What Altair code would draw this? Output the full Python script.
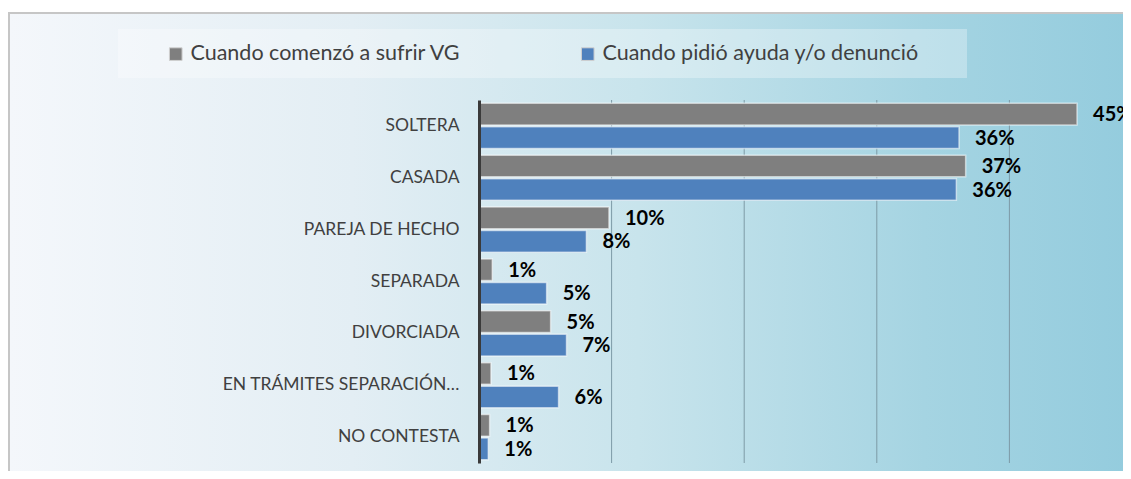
import altair as alt
import pandas as pd

categories = ["SOLTERA", "CASADA", "PAREJA DE HECHO", "SEPARADA", "DIVORCIADA",
              "EN TRÁMITES SEPARACIÓN…", "NO CONTESTA"]
series = ["Cuando comenzó a sufrir VG", "Cuando pidió ayuda y/o denunció"]
inicio = [45.1, 36.7, 9.8, 1.0, 5.4, 0.9, 0.8]
denuncia = [36.2, 36.0, 8.1, 5.1, 6.6, 6.0, 0.7]
colors = ["#7f7f7f", "#4f81bd"]
grid_values = [10, 20, 30, 40]

rows = []
for c, a, b in zip(categories, inicio, denuncia):
    rows.append({"cat": c, "serie": series[0], "value": a})
    rows.append({"cat": c, "serie": series[1], "value": b})
df = pd.DataFrame(rows)
grid_df = pd.DataFrame({"value": grid_values})
one = pd.DataFrame({"k": [0]})

W, H = 644, 363
PL, PT, PR, PB = 471, 92, 0, 8
XMAX = W / 13.26
FONT = "Lato"

xscale = alt.Scale(domain=[0, XMAX], nice=False, zero=True)

bg = alt.Chart(one).mark_rect(
    fill=alt.Gradient(
        gradient="linear",
        stops=[
            alt.GradientStop(color="#f4f7fb", offset=0),
            alt.GradientStop(color="#e3eef4", offset=0.3),
            alt.GradientStop(color="#c8e4ec", offset=0.55),
            alt.GradientStop(color="#a5d4e2", offset=0.8),
            alt.GradientStop(color="#92cbdd", offset=1),
        ],
        x1=0, x2=1, y1=0, y2=0,
    ),
    stroke="#c6c6c6", strokeWidth=2,
).encode(
    x=alt.value(-470), x2=alt.value(W + 30),
    y=alt.value(-87), y2=alt.value(H + 60),
)

legend_box = alt.Chart(one).mark_rect(fill="white", fillOpacity=0.3).encode(
    x=alt.value(-361), x2=alt.value(488),
    y=alt.value(-71), y2=alt.value(-22),
)

grid = alt.Chart(grid_df).mark_rule(color="#7d9aa6", strokeWidth=1).encode(
    x=alt.X("value:Q", scale=xscale),
    y=alt.value(0), y2=alt.value(H),
)

yenc = alt.Y(
    "cat:N", sort=categories,
    scale=alt.Scale(paddingInner=0.13, paddingOuter=0.065),
    axis=alt.Axis(
        title=None, ticks=False, grid=False, domainColor="#3a3a3a", domainWidth=3,
        labelFont=FONT, labelFontSize=17.5, labelColor="#404040", labelPadding=20,
        labelLimit=400, zindex=1,
    ),
)
yoff = alt.YOffset("serie:N", sort=series, scale=alt.Scale(paddingInner=0.08))
xenc = alt.X(
    "value:Q", scale=xscale,
    axis=alt.Axis(title=None, labels=False, ticks=False, domain=False, grid=False),
)

bars = alt.Chart(df).mark_bar(
    stroke="white", strokeOpacity=0.55, strokeWidth=1.5
).encode(
    y=yenc, x=xenc, yOffset=yoff,
    color=alt.Color(
        "serie:N", sort=series,
        scale=alt.Scale(domain=series, range=colors),
        legend=alt.Legend(
            title=None, orient="none", legendX=-314, legendY=-57,
            direction="horizontal", columns=2, columnPadding=116,
            symbolType="square", symbolSize=160, symbolStrokeColor="#d0d0d0",
            symbolStrokeWidth=1, labelFont=FONT, labelFontSize=21.5,
            labelColor="#404040", labelOffset=4, padding=0, zindex=2,
            labelLimit=500,
        ),
    ),
)

labels = alt.Chart(df).transform_calculate(
    label="format(datum.value, '.0f') + '%'"
).mark_text(
    align="left", baseline="middle", dx=16, dy=1,
    font=FONT, fontSize=20, fontWeight="bold", color="black",
).encode(
    y=alt.Y("cat:N", sort=categories), x=alt.X("value:Q", scale=xscale),
    yOffset=alt.YOffset("serie:N", sort=series), text="label:N",
)

chart = alt.layer(bg, legend_box, grid, bars, labels).properties(
    width=W, height=H,
    autosize=alt.AutoSizeParams(type="none"),
    padding={"left": PL, "top": PT, "right": PR, "bottom": PB},
).configure_view(stroke=None).configure(background="white")

chart.save("out.html", embed_options={"renderer": "svg", "actions": False})
